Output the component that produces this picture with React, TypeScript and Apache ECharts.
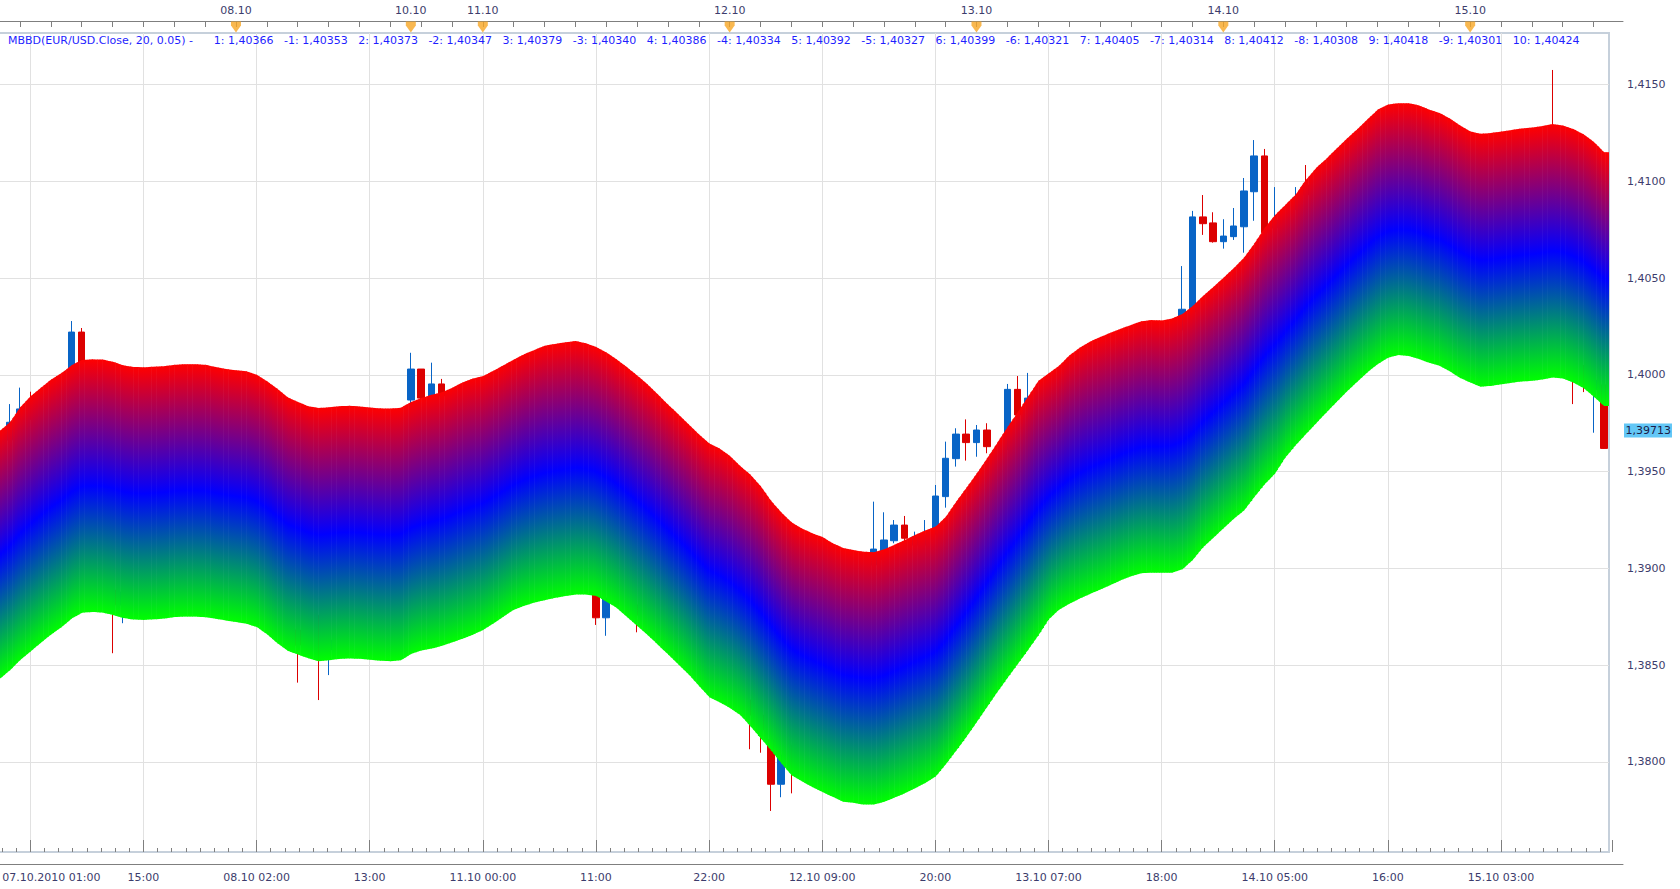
import React, { useEffect, useRef } from "react";
import * as echarts from "echarts";

const W = 1680;
const H = 889;
const FONT = "DejaVu Sans";
const AXIS_TEXT = "#3c3c6c";
const TICK = "#7f7f7f";

// ---------- data ----------
const upper = [
  1.3971, 1.39755, 1.39832, 1.39889, 1.39933, 1.39976, 1.40009, 1.4005, 1.40077, 1.4008,
  1.40079, 1.40068, 1.40049, 1.40041, 1.40039, 1.40042, 1.40045, 1.40052, 1.40055, 1.40055,
  1.40052, 1.4004, 1.4003, 1.40024, 1.40018, 1.4, 1.39967, 1.39928, 1.39884, 1.3986,
  1.39838, 1.39829, 1.39832, 1.39838, 1.3984, 1.39837, 1.39831, 1.39827, 1.39826, 1.3983,
  1.3986, 1.3988, 1.39897, 1.3991, 1.39933, 1.39961, 1.39981, 1.39994, 1.40021, 1.4005,
  1.40079, 1.40107, 1.40129, 1.40151, 1.4016, 1.40168, 1.40175, 1.40163, 1.40144, 1.40115,
  1.40079, 1.40039, 1.39996, 1.3995, 1.39898, 1.39846, 1.39795, 1.39744, 1.39692, 1.39646,
  1.39619, 1.39581, 1.39529, 1.39484, 1.39424, 1.39349, 1.39289, 1.39238, 1.39206, 1.39182,
  1.39162, 1.3913, 1.39106, 1.39095, 1.39086, 1.39084, 1.39099, 1.39122, 1.39147, 1.39173,
  1.39196, 1.39216, 1.39267, 1.39345, 1.39417, 1.3949, 1.39568, 1.39649, 1.39731, 1.39808,
  1.39888, 1.39969, 1.40008, 1.40047, 1.401, 1.4014, 1.40171, 1.40196, 1.40217, 1.40238,
  1.40258, 1.40277, 1.40283, 1.40281, 1.40291, 1.40315, 1.40356, 1.40408, 1.40454, 1.40502,
  1.40552, 1.40606, 1.40679, 1.40759, 1.40825, 1.40878, 1.40931, 1.41007, 1.41069, 1.41117,
  1.41169, 1.41221, 1.41269, 1.4132, 1.41371, 1.41397, 1.41403, 1.41403, 1.41392, 1.4137,
  1.41353, 1.41324, 1.41288, 1.41257, 1.41245, 1.4125, 1.41257, 1.41265, 1.41273, 1.41278,
  1.41285, 1.41296, 1.41288, 1.4127, 1.41243, 1.41203, 1.4115,
];

const lower = [
  1.3843, 1.38474, 1.38527, 1.38571, 1.38616, 1.38659, 1.38696, 1.38741, 1.38771, 1.38775,
  1.38772, 1.3876, 1.38744, 1.38736, 1.38734, 1.38737, 1.38741, 1.38749, 1.38751, 1.38751,
  1.38748, 1.3874, 1.38731, 1.38723, 1.38714, 1.38697, 1.3866, 1.38614, 1.38575, 1.38555,
  1.38536, 1.38521, 1.38526, 1.38532, 1.38535, 1.38533, 1.38528, 1.38523, 1.38521, 1.38525,
  1.38558, 1.38576, 1.38586, 1.386, 1.38618, 1.38637, 1.38658, 1.38682, 1.38716, 1.38752,
  1.38787, 1.38807, 1.38824, 1.38836, 1.38848, 1.38857, 1.38865, 1.38865, 1.38858, 1.38828,
  1.38796, 1.38749, 1.38703, 1.38656, 1.38606, 1.38555, 1.38504, 1.38452, 1.38393, 1.38335,
  1.38309, 1.38279, 1.38243, 1.38185, 1.38122, 1.38061, 1.37994, 1.37931, 1.379, 1.37871,
  1.37845, 1.3782, 1.37794, 1.37789, 1.3778, 1.3778, 1.37795, 1.37816, 1.37838, 1.37864,
  1.37892, 1.37925, 1.37989, 1.38059, 1.3813, 1.38207, 1.38284, 1.38361, 1.38435, 1.38508,
  1.3858, 1.38655, 1.38737, 1.38787, 1.38818, 1.38844, 1.38868, 1.38891, 1.38914, 1.38939,
  1.3896, 1.38975, 1.38978, 1.38978, 1.38978, 1.38996, 1.39044, 1.39109, 1.39158, 1.39208,
  1.39257, 1.393, 1.3937, 1.39435, 1.3949, 1.39573, 1.39636, 1.39694, 1.3975, 1.39806,
  1.39861, 1.39915, 1.39965, 1.40014, 1.40056, 1.40089, 1.40102, 1.40098, 1.40082, 1.40062,
  1.40047, 1.40018, 1.39984, 1.3996, 1.39939, 1.39943, 1.39951, 1.39959, 1.39966, 1.39969,
  1.39976, 1.39986, 1.39981, 1.3996, 1.39932, 1.39887, 1.39839,
];

const barCount = upper.length; // 157 hourly bars
const categories = upper.map((_, i) => String(i));

// visible candles: [bar, open, close, low, high]
const candles: number[][] = [
  [1, 1.39663, 1.39755, 1.39638, 1.39849],
  [2, 1.39767, 1.39824, 1.39741, 1.39934],
  [3, 1.3986, 1.39808, 1.39767, 1.39913],
  [7, 1.40015, 1.40221, 1.39973, 1.40278],
  [8, 1.40221, 1.40066, 1.40025, 1.40242],
  [11, 1.38889, 1.38811, 1.38562, 1.38914],
  [12, 1.38811, 1.38878, 1.38717, 1.3894],
  [29, 1.38682, 1.38604, 1.3841, 1.38734],
  [31, 1.38734, 1.38579, 1.3832, 1.3876],
  [32, 1.38579, 1.3863, 1.38449, 1.38682],
  [40, 1.3987, 1.4003, 1.39818, 1.40114],
  [41, 1.4003, 1.3988, 1.39844, 1.4003],
  [42, 1.39886, 1.39953, 1.39844, 1.40063],
  [43, 1.39953, 1.39891, 1.3987, 1.39979],
  [58, 1.38889, 1.38745, 1.38708, 1.38914],
  [59, 1.38745, 1.38847, 1.38652, 1.38889],
  [62, 1.38811, 1.38759, 1.3867, 1.38837],
  [73, 1.3832, 1.38243, 1.38066, 1.38372],
  [74, 1.38243, 1.38165, 1.38048, 1.3832],
  [75, 1.38114, 1.37885, 1.37747, 1.38165],
  [76, 1.37885, 1.38036, 1.37818, 1.38088],
  [77, 1.38036, 1.37959, 1.37838, 1.38088],
  [85, 1.39018, 1.391, 1.38966, 1.39345],
  [86, 1.39044, 1.39147, 1.38992, 1.3929],
  [87, 1.39143, 1.39224, 1.3913, 1.3925],
  [88, 1.39224, 1.39156, 1.39121, 1.39271],
  [89, 1.39121, 1.39162, 1.39106, 1.3919],
  [90, 1.39121, 1.39173, 1.39095, 1.3925],
  [91, 1.39199, 1.39374, 1.39173, 1.39431],
  [92, 1.39371, 1.39569, 1.39314, 1.39655],
  [93, 1.39567, 1.39694, 1.39526, 1.39724],
  [94, 1.39694, 1.3965, 1.39557, 1.3977],
  [95, 1.3965, 1.39715, 1.39577, 1.39741],
  [96, 1.39715, 1.39629, 1.39595, 1.3975],
  [98, 1.39663, 1.39925, 1.39612, 1.39953],
  [99, 1.39925, 1.39793, 1.39767, 1.39994],
  [100, 1.39844, 1.3988, 1.39818, 1.4001],
  [115, 1.40232, 1.40339, 1.4018, 1.40562],
  [116, 1.40325, 1.40816, 1.40283, 1.40847],
  [117, 1.40816, 1.40781, 1.40723, 1.40929],
  [118, 1.40785, 1.40688, 1.40683, 1.4084],
  [119, 1.40688, 1.40717, 1.40652, 1.40804],
  [120, 1.40714, 1.40769, 1.40697, 1.40862],
  [121, 1.40765, 1.4095, 1.40631, 1.41017],
  [122, 1.40946, 1.41131, 1.40796, 1.41213],
  [123, 1.41131, 1.40734, 1.40671, 1.41167],
  [124, 1.40759, 1.408, 1.40738, 1.4097],
  [126, 1.40877, 1.40914, 1.40852, 1.4097],
  [127, 1.40981, 1.40929, 1.40903, 1.41084],
  [151, 1.41265, 1.41213, 1.41162, 1.41575],
  [153, 1.40077, 1.40025, 1.39849, 1.40103],
  [154, 1.40025, 1.39973, 1.39911, 1.40051],
  [155, 1.39922, 1.39973, 1.39701, 1.40025],
  [156, 1.39948, 1.3962, 1.39617, 1.40025],
];

const bottomLabels = [
  "07.10.2010 01:00", "15:00", "08.10 02:00", "13:00", "11.10 00:00", "11:00", "22:00",
  "12.10 09:00", "20:00", "13.10 07:00", "18:00", "14.10 05:00", "16:00", "15.10 03:00",
];
const firstLabelBar = 3;
const labelStep = 11;

const dayLabels = ["08.10", "10.10", "11.10", "12.10", "13.10", "14.10", "15.10"];
const dayBars = [23, 40, 47, 71, 95, 119, 143];

const priceLabels = [1.38, 1.385, 1.39, 1.395, 1.4, 1.405, 1.41, 1.415];
const lastPrice = 1.39713;

const levels: [number, number][] = [
  [1, 1.40366], [-1, 1.40353], [2, 1.40373], [-2, 1.40347], [3, 1.40379], [-3, 1.4034],
  [4, 1.40386], [-4, 1.40334], [5, 1.40392], [-5, 1.40327], [6, 1.40399], [-6, 1.40321],
  [7, 1.40405], [-7, 1.40314], [8, 1.40412], [-8, 1.40308], [9, 1.40418], [-9, 1.40301],
  [10, 1.40424],
];

// ---------- layout (pixels) ----------
const PLOT_LEFT = -5.7;
const PLOT_RIGHT = 1609;
const PLOT_TOP = 33;
const PLOT_BOTTOM = 852;
const AXIS_X = 1623;
const AXIS_TOP = 21;
const AXIS_BOTTOM = 864;
const PX_PER_UNIT = 19357;
const REF_PRICE = 1.415;
const REF_Y = 84.5;
const barW = (PLOT_RIGHT - PLOT_LEFT) / barCount;

const yToVal = (y: number) => REF_PRICE + (REF_Y - y) / PX_PER_UNIT;
const fmt = (v: number, d: number) => v.toFixed(d).replace(".", ",");

function buildOption() {
  const candleData = categories.map(() => ["-", "-", "-", "-"] as any[]);
  candles.forEach(([i, o, c, l, h]) => {
    candleData[i] = [o, c, l, h];
  });

  const bandData = upper.map((u, i) => [
    i,
    u,
    lower[i],
    i + 1 < barCount ? upper[i + 1] : u,
    i + 1 < barCount ? lower[i + 1] : lower[i],
  ]);

  const grad = new echarts.graphic.LinearGradient(0, 0, 0, 1, [
    { offset: 0, color: "#ff0000" },
    { offset: 0.5, color: "#0000ff" },
    { offset: 1, color: "#00ff00" },
  ]);

  const legendText =
    "MBBD(EUR/USD.Close, 20, 0.05) -      " +
    levels.map(([k, v]) => `${k}: ${fmt(v, 5)}`).join("   ");

  const tickMin = firstLabelBar - labelStep; // -8
  const grid2Left = PLOT_LEFT + (tickMin + 0.5) * barW;
  const grid2Right = 1612;
  const grid2Max = tickMin + (grid2Right - grid2Left) / barW;

  const frameMaxX = barCount - 0.5 + (AXIS_X - PLOT_RIGHT) / barW;

  return {
    animation: false,
    backgroundColor: "#ffffff",
    textStyle: { fontFamily: FONT },
    grid: [
      {
        left: PLOT_LEFT, top: PLOT_TOP, width: PLOT_RIGHT - PLOT_LEFT, height: PLOT_BOTTOM - PLOT_TOP,
        show: true, borderColor: "#c6d0db", borderWidth: 2, backgroundColor: "transparent",
        containLabel: false, outerBoundsMode: "none",
      },
      {
        left: PLOT_LEFT, top: AXIS_TOP, width: AXIS_X - PLOT_LEFT, height: AXIS_BOTTOM - AXIS_TOP,
        show: false, containLabel: false, outerBoundsMode: "none",
      },
      {
        left: grid2Left, top: PLOT_TOP, width: grid2Right - grid2Left, height: PLOT_BOTTOM - PLOT_TOP,
        show: false, containLabel: false, outerBoundsMode: "none",
      },
      {
        left: PLOT_LEFT, top: AXIS_TOP, width: PLOT_RIGHT - PLOT_LEFT, height: PLOT_TOP - AXIS_TOP,
        show: false, containLabel: false, outerBoundsMode: "none",
      },
    ],
    xAxis: [
      {
        gridIndex: 0, type: "category", data: categories, boundaryGap: true,
        axisLine: { show: false }, axisTick: { show: false }, axisLabel: { show: false },
        splitLine: { show: false },
      },
      {
        gridIndex: 1, type: "value", min: -0.5, max: frameMaxX, position: "bottom",
        axisLine: { show: true, lineStyle: { color: TICK, width: 1 } },
        axisTick: { show: false }, axisLabel: { show: false }, splitLine: { show: false },
      },
      {
        gridIndex: 1, type: "value", min: -0.5, max: frameMaxX, position: "top",
        axisLine: { show: true, lineStyle: { color: TICK, width: 1 } },
        axisTick: { show: false }, axisLabel: { show: false }, splitLine: { show: false },
      },
      {
        gridIndex: 2, type: "value", min: tickMin, max: grid2Max, interval: labelStep,
        position: "bottom", offset: AXIS_BOTTOM - PLOT_BOTTOM,
        axisLine: { show: false },
        axisTick: { show: true, inside: true, length: 12, lineStyle: { color: TICK } },
        minorTick: { show: true, splitNumber: 8, length: 4, lineStyle: { color: TICK } },
        splitLine: { show: true, showMinLine: false, showMaxLine: false, lineStyle: { color: "#e1e1e1", width: 1 } },
        axisLabel: {
          show: true, margin: 8, color: AXIS_TEXT, fontSize: 11, fontFamily: FONT,
          showMinLabel: true, showMaxLabel: false,
          formatter: (v: number) => {
            const k = Math.round((v - firstLabelBar) / labelStep);
            if (k < 0 || k >= bottomLabels.length) return "";
            if (Math.abs(v - (firstLabelBar + k * labelStep)) > 1e-6) return "";
            return k === 0 ? `{f|${bottomLabels[0]}}` : bottomLabels[k];
          },
          rich: { f: { padding: [0, 0, 0, 42], color: AXIS_TEXT, fontSize: 11, fontFamily: FONT } },
        },
      },
      {
        gridIndex: 3, type: "category", data: categories, boundaryGap: true, position: "top",
        axisLine: { show: false },
        axisTick: {
          show: true, inside: true, length: 6, alignWithLabel: true,
          interval: (i: number) => i % 3 === 2, lineStyle: { color: TICK },
        },
        axisLabel: {
          show: true, margin: 5, color: AXIS_TEXT, fontSize: 11, fontFamily: FONT,
          interval: (i: number) => dayBars.indexOf(i) >= 0,
          formatter: (_v: string, i: number) => {
            const k = dayBars.indexOf(i);
            return k >= 0 ? dayLabels[k] : "";
          },
        },
        splitLine: { show: false },
      },
    ],
    yAxis: [
      {
        gridIndex: 0, type: "value", min: yToVal(PLOT_BOTTOM), max: yToVal(PLOT_TOP),
        minInterval: 0.005, maxInterval: 0.005, splitNumber: 8,
        axisLine: { show: false }, axisTick: { show: false }, axisLabel: { show: false },
        splitLine: { show: true, showMinLine: false, showMaxLine: false, lineStyle: { color: "#e1e1e1", width: 1 } },
      },
      {
        gridIndex: 1, type: "value", position: "right", min: yToVal(AXIS_BOTTOM), max: yToVal(AXIS_TOP),
        minInterval: 0.005, maxInterval: 0.005, splitNumber: 8,
        axisLine: { show: true, lineStyle: { color: TICK, width: 1 } },
        axisTick: { show: true, inside: true, length: AXIS_X - PLOT_RIGHT, lineStyle: { color: TICK } },
        minorTick: { show: true, splitNumber: 8, length: 6, lineStyle: { color: TICK } },
        splitLine: { show: false },
        axisLabel: {
          show: true, margin: 4, color: AXIS_TEXT, fontSize: 11, fontFamily: FONT,
          showMinLabel: false, showMaxLabel: false,
          formatter: (v: number) =>
            priceLabels.some((p) => Math.abs(p - v) < 1e-7) ? fmt(v, 4) : "",
        },
      },
      { gridIndex: 2, type: "value", min: 0, max: 1, show: false },
      { gridIndex: 3, type: "value", min: 0, max: 1, show: false, inverse: true },
    ],
    series: [
      {
        type: "candlestick",
        xAxisIndex: 0, yAxisIndex: 0,
        data: candleData,
        barWidth: 7,
        z: 2,
        itemStyle: {
          color: "#0864c6", color0: "#dc0000",
          borderColor: "#0864c6", borderColor0: "#dc0000", borderWidth: 1,
        },
      },
      {
        type: "custom",
        xAxisIndex: 0, yAxisIndex: 0,
        z: 3,
        clip: true,
        data: bandData,
        encode: { x: 0, y: [1, 2, 3, 4] },
        renderItem: (_params: any, api: any) => {
          const i = api.value(0);
          const a = api.coord([i, api.value(1)]);
          const b = api.coord([i, api.value(2)]);
          let c: number[];
          let d: number[];
          const last = i >= barCount - 1;
          if (!last) {
            c = api.coord([i + 1, api.value(3)]);
            d = api.coord([i + 1, api.value(4)]);
          } else {
            const half = api.size([1, 0])[0] / 2;
            c = [a[0] + half, a[1]];
            d = [b[0] + half, b[1]];
          }
          const S = 4;
          const children: any[] = [];
          for (let k = 0; k < S; k++) {
            const t0 = k / S;
            const t1 = (k + 1) / S;
            const xa = a[0] + (c[0] - a[0]) * t0;
            const xb = a[0] + (c[0] - a[0]) * t1 + (!last || k < S - 1 ? 0.6 : 0);
            const ua = a[1] + (c[1] - a[1]) * t0;
            const ub = a[1] + (c[1] - a[1]) * t1;
            const la = b[1] + (d[1] - b[1]) * t0;
            const lb = b[1] + (d[1] - b[1]) * t1;
            children.push({
              type: "polygon",
              shape: { points: [[xa, ua], [xb, ub], [xb, lb], [xa, la]] },
              style: { fill: grad, stroke: null },
            });
          }
          return { type: "group", children };
        },
      },
      {
        type: "custom",
        xAxisIndex: 0, yAxisIndex: 0,
        z: 20,
        clip: false,
        silent: true,
        data: [[barCount - 1, lastPrice]],
        encode: { x: 0, y: 1 },
        renderItem: (_params: any, api: any) => {
          const p = api.coord([api.value(0), api.value(1)]);
          return {
            type: "group",
            children: [
              {
                type: "rect",
                shape: { x: AXIS_X + 1, y: p[1] - 7, width: 48, height: 14 },
                style: { fill: "#63c7f6" },
              },
              {
                type: "text",
                style: {
                  text: fmt(lastPrice, 5), x: AXIS_X + 2.5, y: p[1] + 0.5,
                  align: "left", verticalAlign: "middle",
                  fill: "#1c1c48", font: `11px "${FONT}"`,
                },
              },
            ],
          };
        },
      },
      {
        type: "scatter",
        xAxisIndex: 4, yAxisIndex: 3,
        data: dayBars.map((b) => [b, 0.5]),
        symbol: "path://M0,0 L10,0 L10,4 L5,11 L0,4 Z",
        symbolSize: [10, 11],
        itemStyle: { color: "#f8a624" },
        z: 5,
        silent: true,
      },
    ],
    graphic: [
      {
        type: "text",
        left: 8,
        top: 35,
        z: 100,
        style: { text: legendText, fill: "#1f1fff", font: `11px "${FONT}"` },
      },
    ],
  };
}

export default function App() {
  const ref = useRef<HTMLDivElement>(null);
  useEffect(() => {
    if (!ref.current) return;
    const chart = echarts.init(ref.current, null, { renderer: "svg", width: W, height: H });
    chart.setOption(buildOption() as any);
    return () => chart.dispose();
  }, []);
  return (
    <div
      ref={ref}
      style={{ position: "fixed", left: 0, top: 0, width: W, height: H, background: "#fff" }}
    />
  );
}
